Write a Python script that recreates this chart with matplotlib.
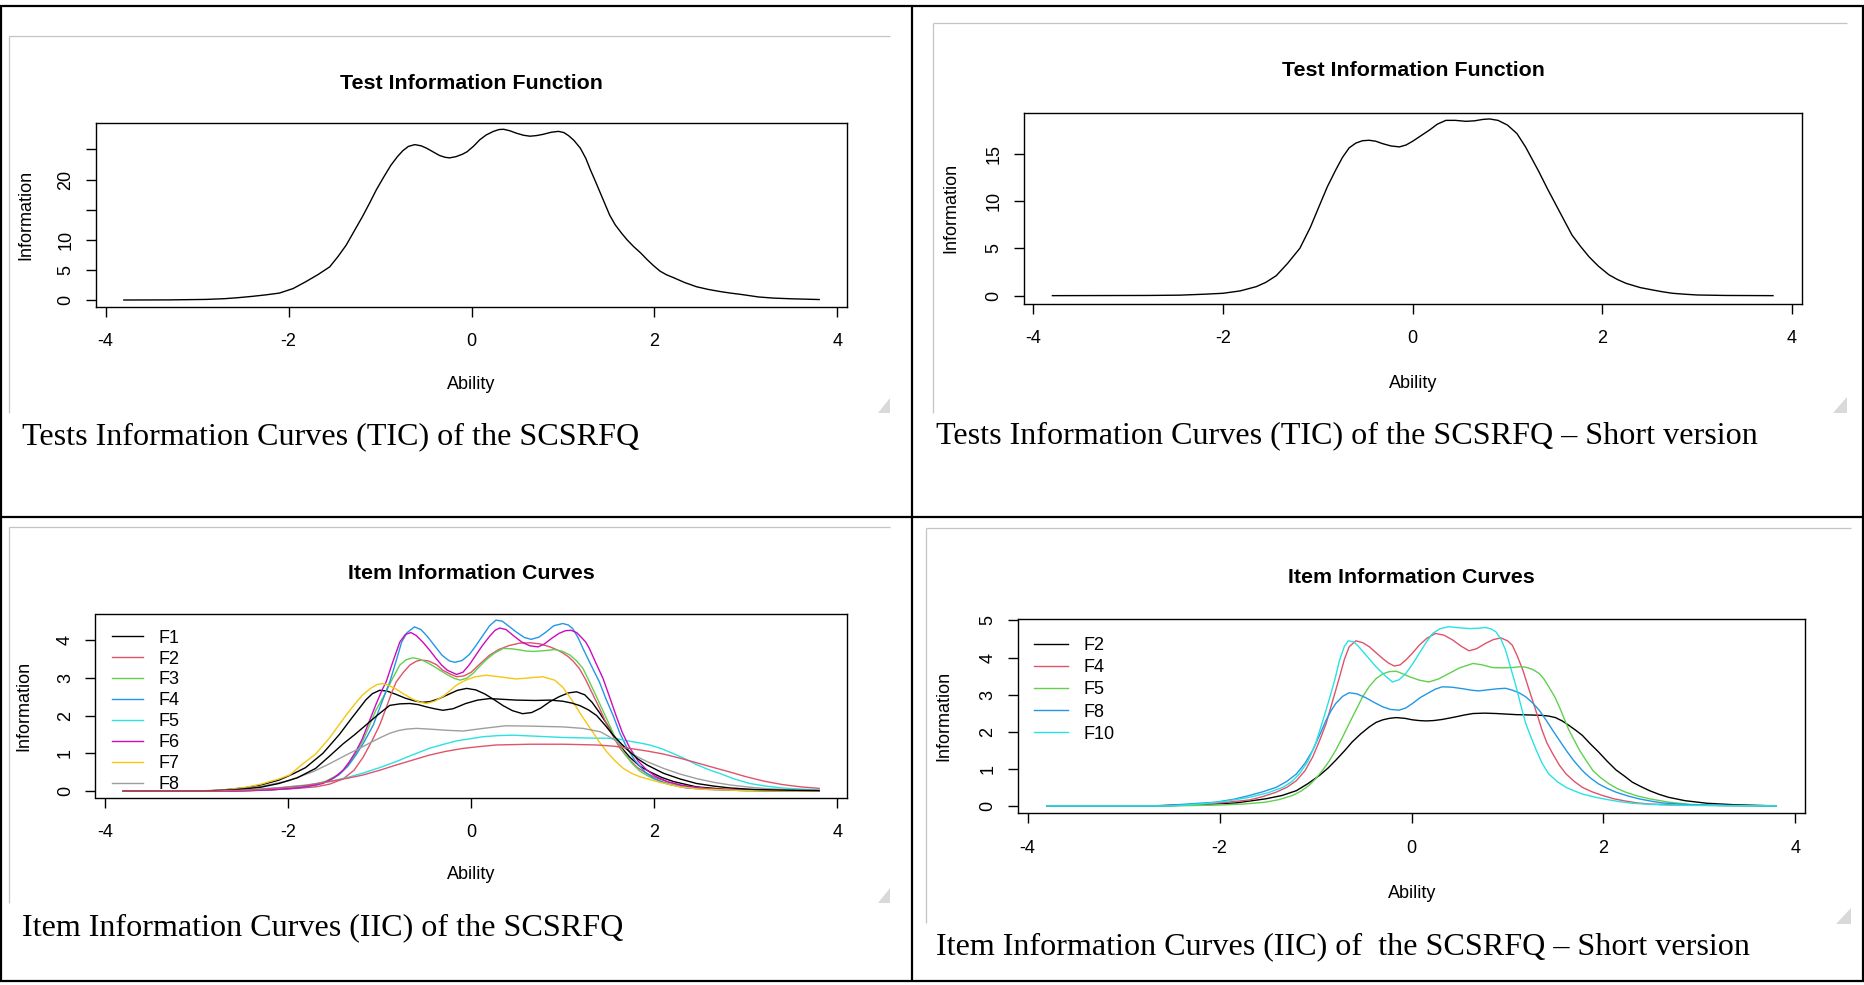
import matplotlib
matplotlib.use("Agg")
import matplotlib.pyplot as plt
from matplotlib.lines import Line2D
from matplotlib.patches import Polygon

# ------------------------------------------------------------------ data
ability_ticks = [-4, -2, 0, 2, 4]

# Test information function - full SCSRFQ
tic_full_x = [-3.8, -3.3, -2.9, -2.7, -2.55, -2.4, -2.25, -2.1, -1.95, -1.81, -1.68, -1.55, -1.46, -1.37,
              -1.28, -1.19, -1.11, -1.04, -0.96, -0.88, -0.81, -0.75, -0.69, -0.62, -0.55, -0.49, -0.42,
              -0.35, -0.29, -0.24, -0.17, -0.1, -0.05, 0.02, 0.09, 0.16, 0.24, 0.3, 0.35, 0.42, 0.49, 0.57,
              0.64, 0.71, 0.78, 0.87, 0.95, 1.01, 1.06, 1.12, 1.19, 1.25, 1.3, 1.36, 1.41, 1.46, 1.51, 1.57,
              1.64, 1.7, 1.77, 1.85, 1.92, 1.99, 2.06, 2.13, 2.21, 2.33, 2.46, 2.59, 2.72, 2.83, 2.94, 3.05,
              3.14, 3.3, 3.5, 3.8]
tic_full_y = [0.0, 0.02, 0.1, 0.22, 0.39, 0.6, 0.85, 1.15, 1.9, 3.05, 4.2, 5.5, 7.2, 9.1,
              11.5, 13.9, 16.2, 18.3, 20.4, 22.4, 23.8, 24.8, 25.5, 25.8, 25.6, 25.2, 24.6,
              24.0, 23.7, 23.6, 23.8, 24.2, 24.6, 25.5, 26.6, 27.4, 28.0, 28.3, 28.35, 28.1, 27.7, 27.35,
              27.2, 27.3, 27.5, 27.85, 28.0, 27.8, 27.3, 26.5, 25.2, 23.5, 21.6, 19.5, 17.7, 15.9, 14.1, 12.5,
              11.1, 10.0, 8.9, 7.8, 6.7, 5.7, 4.8, 4.2, 3.7, 2.9, 2.2, 1.75, 1.4, 1.15, 0.94, 0.7,
              0.5, 0.32, 0.2, 0.08]
tic_full_yticks = [0, 5, 10, 15, 20, 25]
tic_full_ylabels = ["0", "5", "10", "", "20", ""]

# Test information function - short version
tic_short_x = [-3.8, -2.8, -2.46, -2.2, -2.0, -1.82, -1.65, -1.55, -1.44, -1.32, -1.19, -1.08, -0.98, -0.9,
               -0.81, -0.74, -0.67, -0.6, -0.53, -0.46, -0.39, -0.32, -0.23, -0.14, -0.07, 0.0, 0.09, 0.18,
               0.26, 0.35, 0.45, 0.56, 0.65, 0.74, 0.81, 0.9, 1.0, 1.1, 1.19, 1.26, 1.33, 1.42, 1.51, 1.6,
               1.68, 1.77, 1.86, 1.96, 2.07, 2.16, 2.25, 2.4, 2.53, 2.64, 2.74, 2.87, 3.0, 3.3, 3.8]
tic_short_y = [0.0, 0.02, 0.05, 0.15, 0.25, 0.5, 0.95, 1.4, 2.1, 3.4, 5.0, 7.2, 9.6, 11.5,
               13.3, 14.6, 15.6, 16.1, 16.35, 16.4, 16.3, 16.05, 15.8, 15.7, 15.9, 16.3, 16.9, 17.5,
               18.1, 18.5, 18.5, 18.4, 18.45, 18.6, 18.65, 18.5, 18.0, 17.1, 15.7, 14.4, 13.1, 11.3, 9.6, 7.9,
               6.4, 5.2, 4.1, 3.1, 2.2, 1.7, 1.3, 0.85, 0.6, 0.4, 0.25, 0.15, 0.07, 0.02, 0.0]
tic_short_yticks = [0, 5, 10, 15]

# Item information curves - full SCSRFQ (items F1..F10; legend shows F1..F8)
iic_full_labels = ["F1", "F2", "F3", "F4", "F5", "F6", "F7", "F8", "F9", "F10"]
iic_full_colors = ["#000000", "#DF536B", "#61D04F", "#2297E6", "#28E2E5",
                   "#CD0BBC", "#F5C710", "#9E9E9E", "#000000", "#DF536B"]

f1_x = [-3.8, -2.9, -2.7, -2.46, -2.3, -2.1, -1.95, -1.81, -1.62, -1.44, -1.3, -1.22, -1.15, -1.08, -1.0,
        -0.92, -0.82, -0.72, -0.62, -0.53, -0.45, -0.35, -0.25, -0.15, -0.05, 0.05, 0.15, 0.25, 0.35, 0.45,
        0.56, 0.66, 0.76, 0.86, 0.96, 1.06, 1.15, 1.24, 1.32, 1.4, 1.48, 1.56, 1.64, 1.73, 1.84, 1.95, 2.08,
        2.21, 2.46, 2.8, 3.2, 3.8]
f1_y = [0.0, 0.0, 0.03, 0.09, 0.16, 0.29, 0.45, 0.62, 1.0, 1.5, 1.95, 2.2, 2.42, 2.58, 2.67,
        2.65, 2.56, 2.46, 2.39, 2.35, 2.37, 2.45, 2.56, 2.67, 2.72, 2.68, 2.57, 2.42, 2.26, 2.13,
        2.05, 2.08, 2.2, 2.37, 2.5, 2.6, 2.63, 2.55, 2.35, 2.08, 1.78, 1.45, 1.15, 0.9, 0.66, 0.51, 0.36,
        0.25, 0.11, 0.04, 0.01, 0.0]
f2_x = [-3.8, -2.5, -2.2, -1.9, -1.7, -1.55, -1.4, -1.28, -1.18, -1.08, -1.0, -0.93, -0.87, -0.82, -0.74,
        -0.67, -0.6, -0.55, -0.47, -0.38, -0.31, -0.23, -0.16, -0.08, 0.0, 0.1, 0.2, 0.3, 0.42, 0.53, 0.64,
        0.75, 0.86, 0.94, 1.0, 1.06, 1.11, 1.18, 1.25, 1.32, 1.4, 1.47, 1.55, 1.62, 1.71, 1.81, 1.92, 2.03,
        2.15, 2.28, 2.45, 2.65, 3.0, 3.8]
f2_y = [0.0, 0.0, 0.03, 0.07, 0.11, 0.18, 0.32, 0.55, 0.9, 1.35, 1.75, 2.2, 2.6, 2.89, 3.15,
        3.34, 3.44, 3.47, 3.45, 3.35, 3.2, 3.1, 3.03, 3.05, 3.15, 3.38, 3.6, 3.75, 3.86, 3.92, 3.93,
        3.9, 3.82, 3.74, 3.66, 3.56, 3.45, 3.25, 2.95, 2.6, 2.2, 1.82, 1.45, 1.15, 0.88, 0.63, 0.46, 0.34,
        0.24, 0.16, 0.09, 0.05, 0.02, 0.0]
f3_x = [-3.8, -2.6, -2.2, -1.9, -1.73, -1.58, -1.44, -1.35, -1.26, -1.18, -1.11, -1.04, -0.97, -0.93, -0.86,
        -0.78, -0.71, -0.64, -0.57, -0.5, -0.42, -0.34, -0.26, -0.18, -0.12, -0.05, 0.02, 0.09, 0.16, 0.25,
        0.35, 0.44, 0.53, 0.6, 0.68, 0.8, 0.91, 1.0, 1.08, 1.15, 1.22, 1.29, 1.36, 1.44, 1.51, 1.58, 1.66,
        1.75, 1.84, 1.95, 2.06, 2.19, 2.32, 2.65, 3.0, 3.8]
f3_y = [0.0, 0.0, 0.03, 0.09, 0.16, 0.27, 0.45, 0.68, 1.0, 1.35, 1.75, 2.15, 2.45, 2.63, 2.98,
        3.34, 3.48, 3.53, 3.5, 3.43, 3.32, 3.2, 3.08, 2.98, 2.94, 2.99, 3.12, 3.3, 3.47, 3.65,
        3.78, 3.77, 3.74, 3.71, 3.7, 3.72, 3.75, 3.7, 3.6, 3.45, 3.25, 2.9, 2.54, 2.12, 1.75, 1.38, 1.05,
        0.75, 0.53, 0.37, 0.26, 0.17, 0.11, 0.04, 0.01, 0.0]
f4_x = [-3.8, -2.6, -2.2, -1.9, -1.7, -1.55, -1.45, -1.35, -1.26, -1.17, -1.07, -1.0, -0.93, -0.89, -0.82,
        -0.76, -0.7, -0.62, -0.55, -0.48, -0.4, -0.32, -0.24, -0.18, -0.1, -0.02, 0.05, 0.12, 0.2, 0.27,
        0.34, 0.42, 0.5, 0.58, 0.655, 0.74, 0.82, 0.9, 1.0, 1.06, 1.11, 1.17, 1.22, 1.28, 1.34, 1.4, 1.47,
        1.55, 1.62, 1.7, 1.79, 1.9, 2.0, 2.15, 2.35, 2.6, 3.0, 3.8]
f4_y = [0.0, 0.0, 0.03, 0.08, 0.15, 0.28, 0.42, 0.65, 0.95, 1.3, 1.75, 2.2, 2.65, 2.89, 3.45,
        3.95, 4.2, 4.35, 4.28, 4.1, 3.85, 3.6, 3.45, 3.41, 3.46, 3.62, 3.85, 4.1, 4.38, 4.53,
        4.5, 4.35, 4.2, 4.07, 4.02, 4.08, 4.22, 4.38, 4.44, 4.4, 4.3, 4.05, 3.78, 3.48, 3.18, 2.89, 2.45,
        2.0, 1.55, 1.15, 0.8, 0.5, 0.33, 0.18, 0.08, 0.04, 0.01, 0.0]
f5_x = [-3.8, -2.8, -2.4, -2.1, -1.8, -1.55, -1.35, -1.19, -1.0, -0.82, -0.64, -0.46, -0.3, -0.16, 0.0,
        0.13, 0.3, 0.46, 0.64, 0.82, 1.0, 1.19, 1.35, 1.48, 1.6, 1.73, 1.85, 1.95, 2.08, 2.2, 2.33, 2.46,
        2.6, 2.72, 2.86, 3.04, 3.22, 3.4, 3.6, 3.8]
f5_y = [0.0, 0.0, 0.04, 0.09, 0.16, 0.25, 0.36, 0.47, 0.62, 0.78, 0.96, 1.13, 1.24, 1.33, 1.39,
        1.44, 1.47, 1.48, 1.46, 1.44, 1.42, 1.41, 1.4, 1.4, 1.38, 1.32, 1.27, 1.22, 1.12, 1.0, 0.86, 0.7,
        0.56, 0.46, 0.33, 0.2, 0.13, 0.08, 0.05, 0.03]
f6_x = [-3.8, -2.6, -2.2, -1.9, -1.62, -1.5, -1.4, -1.33, -1.26, -1.19, -1.13, -1.04, -0.97, -0.93, -0.86,
        -0.78, -0.72, -0.66, -0.6, -0.53, -0.45, -0.38, -0.32, -0.26, -0.16, -0.09, -0.02, 0.05, 0.12, 0.2,
        0.26, 0.31, 0.38, 0.46, 0.55, 0.64, 0.73, 0.8, 0.88, 0.96, 1.03, 1.09, 1.15, 1.2, 1.25, 1.29, 1.36,
        1.44, 1.51, 1.58, 1.65, 1.73, 1.82, 1.92, 2.02, 2.15, 2.3, 2.5, 2.65, 3.0, 3.8]
f6_y = [0.0, 0.0, 0.03, 0.08, 0.2, 0.35, 0.55, 0.78, 1.05, 1.38, 1.75, 2.3, 2.7, 2.89, 3.4,
        3.95, 4.15, 4.2, 4.12, 3.95, 3.72, 3.5, 3.33, 3.2, 3.09, 3.15, 3.35, 3.6, 3.85, 4.1,
        4.26, 4.32, 4.28, 4.12, 3.95, 3.85, 3.82, 3.9, 4.05, 4.18, 4.25, 4.26, 4.2, 4.08, 3.95, 3.78, 3.4,
        2.98, 2.5, 2.01, 1.55, 1.15, 0.8, 0.55, 0.38, 0.24, 0.15, 0.08, 0.05, 0.02, 0.0]
f7_x = [-3.8, -2.9, -2.7, -2.46, -2.3, -2.1, -1.98, -1.85, -1.7, -1.55, -1.46, -1.37, -1.28, -1.19, -1.1,
        -1.03, -0.97, -0.9, -0.82, -0.75, -0.66, -0.57, -0.49, -0.4, -0.3, -0.16, -0.05, 0.05, 0.16, 0.3,
        0.49, 0.64, 0.78, 0.91, 1.0, 1.11, 1.2, 1.3, 1.39, 1.48, 1.57, 1.66, 1.75, 1.84, 2.06, 2.28, 2.5,
        3.0, 3.8]
f7_y = [0.0, 0.0, 0.03, 0.1, 0.18, 0.32, 0.43, 0.7, 0.98, 1.4, 1.7, 2.0, 2.28, 2.54, 2.72,
        2.82, 2.85, 2.8, 2.7, 2.59, 2.46, 2.36, 2.32, 2.38, 2.52, 2.81, 2.95, 3.03, 3.07, 3.03,
        2.97, 3.0, 3.03, 2.94, 2.75, 2.37, 2.02, 1.66, 1.33, 1.04, 0.8, 0.6, 0.47, 0.38, 0.23, 0.11, 0.05,
        0.01, 0.0]
f8_x = [-3.8, -3.0, -2.6, -2.3, -2.0, -1.73, -1.55, -1.37, -1.22, -1.08, -0.98, -0.89, -0.8, -0.71, -0.6,
        -0.45, -0.27, -0.09, 0.13, 0.38, 0.64, 1.0, 1.22, 1.41, 1.5, 1.59, 1.66, 1.73, 1.82, 1.92, 2.1,
        2.28, 2.46, 2.65, 2.83, 3.05, 3.25, 3.5, 3.8]
f8_y = [0.0, 0.0, 0.04, 0.12, 0.27, 0.51, 0.72, 0.95, 1.13, 1.31, 1.43, 1.53, 1.6, 1.64, 1.66,
        1.64, 1.61, 1.59, 1.66, 1.73, 1.72, 1.7, 1.66, 1.57, 1.45, 1.31, 1.18, 1.04, 0.9, 0.78, 0.6,
        0.45, 0.33, 0.23, 0.16, 0.1, 0.06, 0.03, 0.01]
f9_x = [-3.8, -2.9, -2.6, -2.3, -2.1, -1.9, -1.7, -1.55, -1.4, -1.27, -1.15, -1.02, -0.89, -0.78, -0.67,
        -0.58, -0.49, -0.4, -0.31, -0.2, -0.06, 0.07, 0.2, 0.35, 0.49, 0.7, 0.86, 1.0, 1.1, 1.19, 1.28,
        1.37, 1.46, 1.55, 1.64, 1.73, 1.82, 1.92, 2.1, 2.28, 2.46, 2.65, 2.83, 3.1, 3.5, 3.8]
f9_y = [0.0, 0.0, 0.03, 0.1, 0.2, 0.35, 0.6, 0.92, 1.25, 1.5, 1.75, 2.02, 2.27, 2.31, 2.32,
        2.29, 2.23, 2.18, 2.14, 2.18, 2.32, 2.41, 2.45, 2.43, 2.41, 2.4, 2.41, 2.38, 2.33, 2.26, 2.15,
        2.0, 1.75, 1.48, 1.25, 1.04, 0.85, 0.69, 0.47, 0.32, 0.2, 0.13, 0.08, 0.04, 0.02, 0.01]
f10_x = [-3.8, -2.8, -2.4, -2.1, -1.8, -1.55, -1.35, -1.19, -1.0, -0.82, -0.64, -0.46, -0.28, -0.09, 0.1,
         0.27, 0.45, 0.64, 0.82, 1.0, 1.2, 1.37, 1.55, 1.73, 1.92, 2.1, 2.28, 2.46, 2.65, 2.83, 3.0, 3.2,
         3.4, 3.6, 3.8]
f10_y = [0.0, 0.0, 0.03, 0.08, 0.15, 0.25, 0.34, 0.42, 0.55, 0.69, 0.82, 0.95, 1.05, 1.13, 1.18,
         1.22, 1.23, 1.24, 1.24, 1.24, 1.23, 1.22, 1.19, 1.13, 1.06, 0.98, 0.87, 0.75, 0.62, 0.5, 0.38, 0.26,
         0.17, 0.11, 0.07]
iic_full_x = [f1_x, f2_x, f3_x, f4_x, f5_x, f6_x, f7_x, f8_x, f9_x, f10_x]
iic_full_y = [f1_y, f2_y, f3_y, f4_y, f5_y, f6_y, f7_y, f8_y, f9_y, f10_y]
iic_full_yticks = [0, 1, 2, 3, 4]

# Item information curves - short version (F2, F4, F5, F8, F10)
iic_short_labels = ["F2", "F4", "F5", "F8", "F10"]
iic_short_colors = ["#000000", "#DF536B", "#61D04F", "#2297E6", "#28E2E5"]

s2_x = [-3.8, -2.73, -2.2, -1.83, -1.52, -1.35, -1.2, -1.08, -0.96, -0.87, -0.79, -0.7, -0.62, -0.53, -0.44,
        -0.37, -0.3, -0.23, -0.16, -0.07, 0.01, 0.08, 0.15, 0.23, 0.32, 0.46, 0.55, 0.64, 0.76, 0.88, 1.09,
        1.25, 1.36, 1.43, 1.5, 1.57, 1.64, 1.71, 1.78, 1.86, 1.95, 2.04, 2.13, 2.22, 2.3, 2.39, 2.48, 2.58,
        2.68, 2.85, 3.08, 3.37, 3.8]
s2_y = [0.0, 0.0, 0.04, 0.08, 0.19, 0.28, 0.41, 0.6, 0.82, 1.02, 1.23, 1.48, 1.72, 1.94, 2.13,
        2.25, 2.32, 2.36, 2.38, 2.36, 2.32, 2.3, 2.29, 2.3, 2.33, 2.4, 2.45, 2.49, 2.5, 2.49, 2.46,
        2.45, 2.44, 2.42, 2.38, 2.29, 2.17, 2.04, 1.9, 1.68, 1.45, 1.2, 0.97, 0.8, 0.64, 0.52, 0.41, 0.31,
        0.23, 0.14, 0.07, 0.03, 0.0]
s4_x = [-3.8, -2.5, -2.21, -1.95, -1.69, -1.55, -1.41, -1.3, -1.2, -1.11, -1.03, -0.96, -0.89, -0.82, -0.75,
        -0.7, -0.65, -0.58, -0.51, -0.44, -0.37, -0.3, -0.24, -0.18, -0.12, -0.06, 0.01, 0.08, 0.16, 0.25,
        0.34, 0.43, 0.52, 0.6, 0.68, 0.77, 0.85, 0.93, 1.0, 1.05, 1.1, 1.16, 1.21, 1.26, 1.31, 1.36, 1.41,
        1.47, 1.54, 1.61, 1.7, 1.78, 1.88, 1.99, 2.11, 2.23, 2.35, 2.48, 2.8, 3.8]
s4_y = [0.0, 0.0, 0.04, 0.09, 0.16, 0.25, 0.37, 0.5, 0.68, 0.95, 1.32, 1.75, 2.22, 2.85, 3.48,
        3.95, 4.29, 4.45, 4.4, 4.29, 4.13, 3.97, 3.85, 3.77, 3.8, 3.93, 4.12, 4.33, 4.52, 4.65,
        4.6, 4.47, 4.3, 4.18, 4.24, 4.38, 4.48, 4.53, 4.45, 4.33, 4.05, 3.66, 3.25, 2.85, 2.45, 2.04, 1.7,
        1.41, 1.1, 0.86, 0.65, 0.5, 0.38, 0.28, 0.19, 0.13, 0.08, 0.05, 0.02, 0.0]
s5_x = [-3.8, -2.5, -2.04, -1.75, -1.52, -1.38, -1.24, -1.15, -1.07, -1.0, -0.93, -0.86, -0.79, -0.72, -0.65,
        -0.58, -0.51, -0.44, -0.37, -0.3, -0.23, -0.16, -0.09, -0.02, 0.08, 0.18, 0.28, 0.39, 0.5, 0.64,
        0.74, 0.84, 0.95, 1.05, 1.13, 1.19, 1.26, 1.33, 1.38, 1.43, 1.49, 1.54, 1.59, 1.64, 1.7, 1.75, 1.82,
        1.89, 1.97, 2.06, 2.14, 2.23, 2.35, 2.48, 2.68, 2.9, 3.2, 3.8]
s5_y = [0.0, 0.0, 0.02, 0.05, 0.1, 0.17, 0.28, 0.4, 0.55, 0.73, 0.95, 1.2, 1.5, 1.85, 2.22,
        2.58, 2.94, 3.22, 3.43, 3.56, 3.62, 3.63, 3.56, 3.48, 3.39, 3.34, 3.42, 3.57, 3.72, 3.84,
        3.8, 3.73, 3.72, 3.73, 3.75, 3.74, 3.68, 3.57, 3.42, 3.21, 2.95, 2.67, 2.36, 2.04, 1.75, 1.5, 1.22,
        0.95, 0.76, 0.59, 0.47, 0.37, 0.27, 0.19, 0.1, 0.04, 0.01, 0.0]
s8_x = [-3.8, -2.6, -2.45, -2.04, -1.85, -1.69, -1.55, -1.41, -1.3, -1.2, -1.11, -1.03, -0.96, -0.89, -0.84,
        -0.79, -0.72, -0.65, -0.57, -0.48, -0.39, -0.3, -0.22, -0.13, -0.06, 0.01, 0.09, 0.18, 0.25, 0.32,
        0.42, 0.53, 0.62, 0.7, 0.8, 0.91, 0.98, 1.05, 1.12, 1.19, 1.26, 1.33, 1.4, 1.47, 1.54, 1.61, 1.69,
        1.78, 1.86, 1.95, 2.04, 2.13, 2.25, 2.37, 2.49, 2.61, 2.9, 3.3, 3.8]
s8_y = [0.0, 0.0, 0.03, 0.1, 0.18, 0.28, 0.38, 0.5, 0.66, 0.86, 1.15, 1.5, 1.9, 2.31, 2.56,
        2.76, 2.95, 3.05, 3.02, 2.92, 2.79, 2.67, 2.6, 2.58, 2.64, 2.76, 2.92, 3.05, 3.15, 3.21,
        3.2, 3.16, 3.12, 3.1, 3.13, 3.16, 3.17, 3.12, 3.05, 2.94, 2.78, 2.58, 2.32, 2.04, 1.77, 1.5, 1.22,
        0.95, 0.76, 0.59, 0.47, 0.37, 0.27, 0.19, 0.13, 0.08, 0.03, 0.01, 0.0]
s10_x = [-3.8, -2.5, -2.21, -1.95, -1.69, -1.5, -1.34, -1.25, -1.17, -1.08, -1.0, -0.93, -0.86, -0.8, -0.75,
         -0.7, -0.66, -0.6, -0.55, -0.46, -0.37, -0.28, -0.2, -0.13, -0.06, 0.01, 0.08, 0.15, 0.22, 0.3,
         0.39, 0.5, 0.6, 0.7, 0.77, 0.83, 0.88, 0.93, 0.98, 1.03, 1.09, 1.14, 1.19, 1.25, 1.3, 1.36, 1.43,
         1.52, 1.61, 1.7, 1.78, 1.92, 2.06, 2.18, 2.3, 2.5, 2.68, 3.0, 3.8]
s10_y = [0.0, 0.0, 0.05, 0.12, 0.23, 0.35, 0.5, 0.65, 0.86, 1.2, 1.68, 2.25, 2.85, 3.4, 3.93,
         4.3, 4.45, 4.42, 4.29, 4.02, 3.75, 3.52, 3.34, 3.4, 3.57, 3.82, 4.11, 4.4, 4.65, 4.78,
         4.83, 4.8, 4.78, 4.79, 4.81, 4.77, 4.69, 4.5, 4.2, 3.75, 3.21, 2.7, 2.22, 1.82, 1.5, 1.15, 0.86,
         0.65, 0.5, 0.4, 0.32, 0.23, 0.16, 0.11, 0.07, 0.04, 0.02, 0.01, 0.0]
iic_short_x = [s2_x, s4_x, s5_x, s8_x, s10_x]
iic_short_y = [s2_y, s4_y, s5_y, s8_y, s10_y]
iic_short_yticks = [0, 1, 2, 3, 4, 5]

# ------------------------------------------------------------------ layout helpers
W, H = 1865, 985
SANS = "Liberation Sans"
SERIF = "Liberation Serif"

fig = plt.figure(figsize=(W / 100, H / 100), dpi=100)
fig.patch.set_facecolor("white")


def fxy(x, y):
    return x / W, 1 - y / H


def axes_px(x0, y0, x1, y1):
    return fig.add_axes([x0 / W, 1 - y1 / H, (x1 - x0) / W, (y1 - y0) / H])


def fig_line(xs, ys, color, lw):
    fx = [x / W for x in xs]
    fy = [1 - y / H for y in ys]
    fig.add_artist(Line2D(fx, fy, transform=fig.transFigure, color=color, lw=lw,
                          solid_capstyle="butt"))


def grip(x0, y0, x1, y1):
    pts = [fxy(x1, y0), fxy(x1, y1), fxy(x0, y1)]
    fig.add_artist(Polygon(pts, closed=True, transform=fig.transFigure,
                           facecolor="#d9d9d9", edgecolor="none"))


def style_axes(ax, ylim, yticks, ylabels, xpad, ypad):
    ax.set_xlim(-4.104, 4.104)
    ax.set_ylim(*ylim)
    ax.set_xticks(ability_ticks)
    ax.set_xticklabels([str(t) for t in ability_ticks])
    ax.set_yticks(yticks)
    ax.set_yticklabels(ylabels, rotation=90, va="center")
    for s in ax.spines.values():
        s.set_linewidth(1.0)
        s.set_color("black")
    ax.tick_params(axis="both", direction="out", length=7.2, width=1.0, labelsize=13,
                   colors="black")
    ax.tick_params(axis="x", pad=xpad)
    ax.tick_params(axis="y", pad=ypad)
    for lab in ax.get_xticklabels() + ax.get_yticklabels():
        lab.set_fontfamily(SANS)


def panel_texts(title, tx, ty, ab_y, ylab_x, ylab_y, caption, cx, cy):
    fig.text(*fxy(tx, ty), title, ha="center", va="baseline", fontsize=15.4,
             fontweight="bold", family=SANS)
    fig.text(*fxy(tx, ab_y), "Ability", ha="center", va="baseline", fontsize=13, family=SANS)
    fig.text(*fxy(ylab_x, ylab_y), "Information", ha="center", va="center", rotation=90,
             fontsize=13, family=SANS)
    fig.text(*fxy(cx, cy), caption, ha="left", va="baseline", fontsize=23.1, family=SERIF)


XPAD, YPAD = 11.7, 8.2

# ------------------------------------------------------------------ table borders
BL_W = 1.6
fig_line([0, W], [5.5, 5.5], "black", BL_W)
fig_line([0, W], [981, 981], "black", BL_W)
fig_line([1, 1], [5.5, 981], "black", BL_W)
fig_line([1863, 1863], [5.5, 981], "black", BL_W)
fig_line([912, 912], [5.5, 981], "black", BL_W)
fig_line([0, W], [516.5, 516.5], "black", BL_W)

# light grey frames of the pasted R plot windows
GR = "#c4c4c4"
fig_line([9, 890], [36, 36], GR, 0.9)
fig_line([9, 9], [36, 413], GR, 0.9)
fig_line([933, 1847], [23, 23], GR, 0.9)
fig_line([933, 933], [23, 413], GR, 0.9)
fig_line([9, 890], [527, 527], GR, 0.9)
fig_line([9, 9], [527, 903], GR, 0.9)
fig_line([926, 1851], [528, 528], GR, 0.9)
fig_line([926, 926], [528, 923], GR, 0.9)
grip(878, 398, 890, 413)
grip(1833, 397, 1847, 413)
grip(878, 888, 890, 903)
grip(1836, 908, 1851, 924)

# ------------------------------------------------------------------ panel 1: TIC full
ax1 = axes_px(96, 122.7, 847, 307)
ax1.plot(tic_full_x, tic_full_y, color="black", lw=1.0)
style_axes(ax1, (-1.16, 29.44), tic_full_yticks, tic_full_ylabels, XPAD, YPAD)
panel_texts("Test Information Function", 471.5, 89.3, 388.5, 26, 215,
            "Tests Information Curves (TIC) of the SCSRFQ", 22.5, 444.5)

# ------------------------------------------------------------------ panel 2: TIC short
ax2 = axes_px(1023.6, 112.5, 1801.8, 303.7)
ax2.plot(tic_short_x, tic_short_y, color="black", lw=1.0)
style_axes(ax2, (-0.85, 19.33), tic_short_yticks, [str(t) for t in tic_short_yticks], XPAD, YPAD)
panel_texts("Test Information Function", 1413, 76.5, 387.5, 951, 208,
            "Tests Information Curves (TIC) of the SCSRFQ \u2013 Short version", 936, 443.5)

# ------------------------------------------------------------------ panel 3: IIC full
ax3 = axes_px(95.5, 613.7, 847, 798)
lines3 = []
for xs, ys, c, lab in zip(iic_full_x, iic_full_y, iic_full_colors, iic_full_labels):
    ln, = ax3.plot(xs, ys, color=c, lw=1.0, label=lab)
    lines3.append(ln)
style_axes(ax3, (-0.185, 4.70), iic_full_yticks, [str(t) for t in iic_full_yticks], XPAD, YPAD)
ax3.legend(handles=lines3[:8], labels=iic_full_labels[:8], loc="upper left",
           bbox_to_anchor=(0.0213, 0.914), frameon=False, prop={"family": SANS, "size": 13},
           handlelength=1.77, handletextpad=0.86, labelspacing=0.22, borderpad=0, borderaxespad=0)
panel_texts("Item Information Curves", 471.5, 579, 879, 24, 706,
            "Item Information Curves (IIC) of the SCSRFQ", 22.5, 935.5)

# ------------------------------------------------------------------ panel 4: IIC short
ax4 = axes_px(1017.7, 619.3, 1805.4, 813.3)
lines4 = []
for xs, ys, c, lab in zip(iic_short_x, iic_short_y, iic_short_colors, iic_short_labels):
    ln, = ax4.plot(xs, ys, color=c, lw=1.0, label=lab)
    lines4.append(ln)
style_axes(ax4, (-0.2, 5.03), iic_short_yticks, [str(t) for t in iic_short_yticks], XPAD, YPAD)
ax4.legend(handles=lines4, labels=iic_short_labels, loc="upper left",
           bbox_to_anchor=(0.0212, 0.907), frameon=False, prop={"family": SANS, "size": 13},
           handlelength=1.88, handletextpad=0.86, labelspacing=0.28, borderpad=0, borderaxespad=0)
panel_texts("Item Information Curves", 1411.8, 583.3, 898.3, 944, 716,
            "Item Information Curves (IIC) of  the SCSRFQ \u2013 Short version", 936, 954)

fig.savefig("out.png", dpi=100, facecolor="white")
